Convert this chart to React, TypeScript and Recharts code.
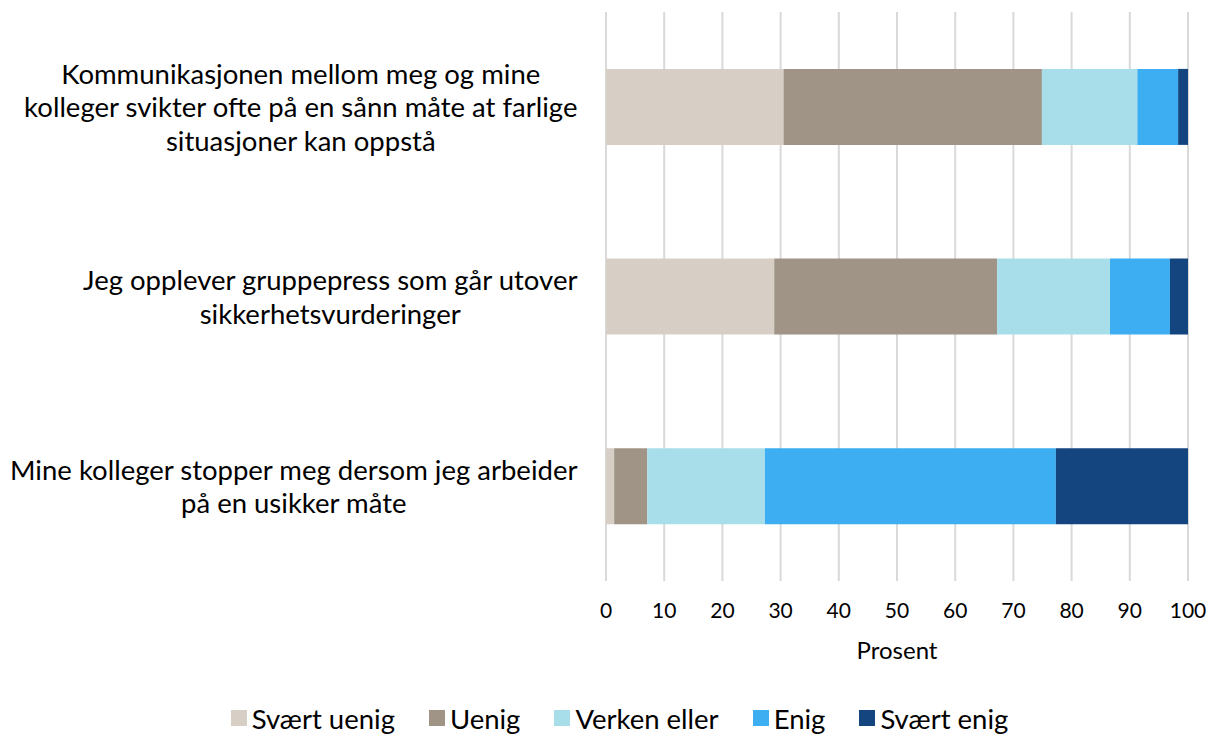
import React from 'react';
import { BarChart, Bar, XAxis, YAxis, CartesianGrid, Legend, Label } from 'recharts';

const categories = [
  'Kommunikasjonen mellom meg og mine kolleger svikter ofte på en sånn måte at farlige situasjoner kan oppstå',
  'Jeg opplever gruppepress som går utover sikkerhetsvurderinger',
  'Mine kolleger stopper meg dersom jeg arbeider på en usikker måte',
];
const categoryLines = [
  ['Kommunikasjonen mellom meg og mine', 'kolleger svikter ofte på en sånn måte at farlige', 'situasjoner kan oppstå'],
  ['Jeg opplever gruppepress som går utover', 'sikkerhetsvurderinger'],
  ['Mine kolleger stopper meg dersom jeg arbeider', 'på en usikker måte'],
];
const seriesNames = ['Svært uenig', 'Uenig', 'Verken eller', 'Enig', 'Svært enig'];
const seriesColors = ['#D7CFC6', '#A09487', '#A8DEEA', '#3CAEF1', '#15457E'];
const sværtUenig = [30.5, 28.9, 1.4];
const uenig = [44.4, 38.3, 5.7];
const verkenEller = [16.4, 19.4, 20.2];
const enig = [7.0, 10.3, 50.0];
const sværtEnig = [1.7, 3.1, 22.7];
const xTicks = [0, 10, 20, 30, 40, 50, 60, 70, 80, 90, 100];

const seriesValues = [sværtUenig, uenig, verkenEller, enig, sværtEnig];
const data = categories.map((c, i) => {
  const row: any = { category: c, idx: i };
  seriesNames.forEach((s, k) => {
    row[s] = seriesValues[k][i];
  });
  return row;
});

const FONT = 'Lato, Calibri, sans-serif';
const CAT_SIZE = 27.5;

let canvasCtx: CanvasRenderingContext2D | null = null;
function measure(text: string, size: number): number {
  if (!canvasCtx) {
    const c = document.createElement('canvas');
    canvasCtx = c.getContext('2d');
  }
  if (!canvasCtx) return text.length * size * 0.5;
  canvasCtx.font = `${size}px Lato`;
  return canvasCtx.measureText(text).width;
}

const CategoryTick = (props: any) => {
  const { x, y, payload } = props;
  const idx = categories.indexOf(payload.value);
  const lines = idx >= 0 ? categoryLines[idx] : [String(payload.value)];
  const maxW = Math.max(...lines.map((l) => measure(l, CAT_SIZE)));
  const cx = x - maxW / 2;
  const lh = 33.5;
  const start = y - ((lines.length - 1) * lh) / 2;
  return (
    <g>
      {lines.map((l, i) => (
        <text
          key={i}
          x={cx}
          y={start + i * lh}
          textAnchor="middle"
          dominantBaseline="central"
          fontFamily={FONT}
          fontSize={CAT_SIZE}
          fill="#000"
        >
          {l}
        </text>
      ))}
    </g>
  );
};

const LegendContent = () => (
  <div
    style={{
      display: 'flex',
      justifyContent: 'center',
      alignItems: 'center',
      height: 30,
      paddingLeft: 30,
      fontFamily: FONT,
      fontSize: 27.5,
      color: '#000',
      whiteSpace: 'nowrap',
    }}
  >
    {seriesNames.map((s, i) => (
      <div key={s} style={{ display: 'flex', alignItems: 'center', marginRight: i < seriesNames.length - 1 ? 34 : 0 }}>
        <span style={{ display: 'inline-block', width: 16, height: 16, background: seriesColors[i], marginRight: 5 }} />
        <span>{s}</span>
      </div>
    ))}
  </div>
);

export default function App() {
  return (
    <div style={{ position: 'absolute', left: 0, top: 0, width: 1209, height: 737, background: '#fff' }}>
      <BarChart
        width={1209}
        height={737}
        data={data}
        layout="vertical"
        margin={{ top: 12, right: 21, left: 0, bottom: 46 }}
        barCategoryGap="30%"
      >
        <CartesianGrid horizontal={false} vertical stroke="#D9D9D9" strokeWidth={2} />
        <XAxis
          type="number"
          domain={[0, 100]}
          ticks={xTicks}
          interval={0}
          axisLine={false}
          tickLine={false}
          tickSize={0}
          tickMargin={22}
          height={80}
          tick={{ fill: '#000', fontSize: 21, fontFamily: FONT }}
        >
          <Label value="Prosent" position="insideBottom" offset={2} fill="#000" fontSize={24} fontFamily={FONT} />
        </XAxis>
        <YAxis
          type="category"
          dataKey="category"
          width={606}
          axisLine={false}
          tickLine={false}
          tickSize={0}
          tickMargin={28}
          interval={0}
          tick={<CategoryTick />}
        />
        <Legend content={<LegendContent />} verticalAlign="bottom" wrapperStyle={{ top: 703, left: 0, width: 1209, bottom: 'auto' }} />
        {seriesNames.map((s, i) => (
          <Bar key={s} dataKey={s} stackId="a" fill={seriesColors[i]} isAnimationActive={false} />
        ))}
      </BarChart>
    </div>
  );
}
